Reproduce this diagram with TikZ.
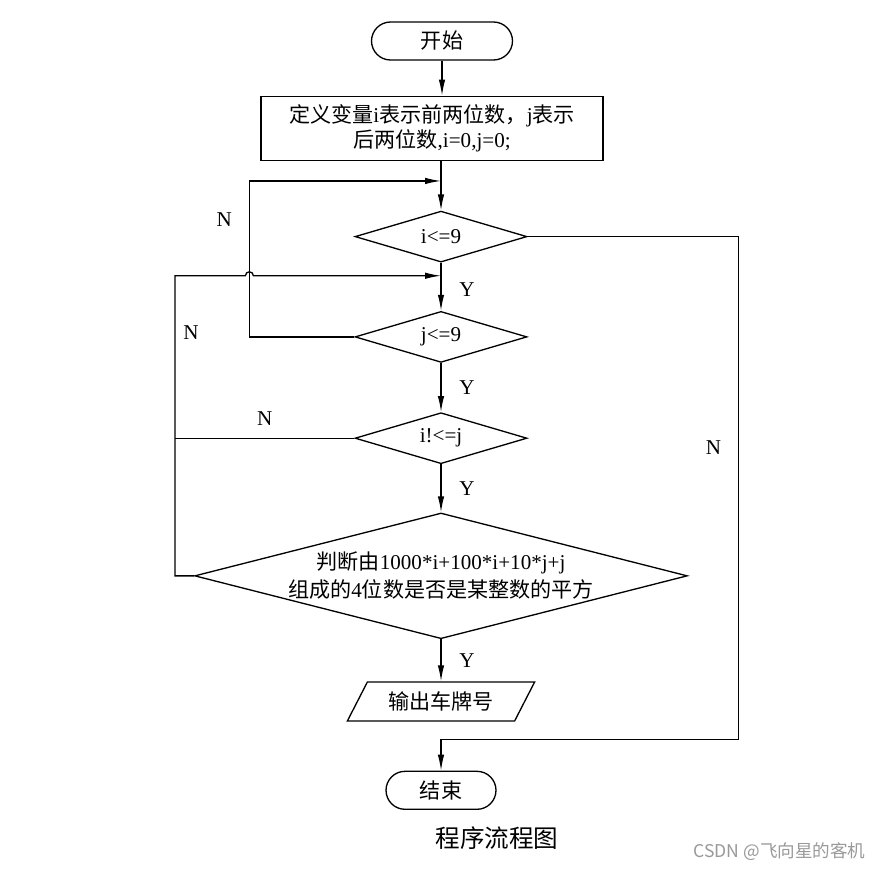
\documentclass[tikz,border=0pt]{standalone}
\usepackage{fontspec}
\setmainfont{Liberation Serif}
\newfontfamily\cjk{Noto Sans CJK SC}
\usetikzlibrary{arrows.meta,shapes.geometric,positioning,calc}

\begin{document}
\begin{tikzpicture}[
    x=0.02cm,y=0.02cm,
    line width=0.75pt,
    node distance=1.0cm,
    every node/.style={font=\fontsize{12}{14}\selectfont},
    term/.style={rectangle,draw,rounded corners=0.38cm,minimum height=0.76cm,align=center},
    block/.style={rectangle,draw,minimum width=6.84cm,minimum height=1.28cm,align=center},
    decide/.style={diamond,draw,minimum width=3.44cm,minimum height=1.02cm,inner sep=0pt,shape aspect=3.4,align=center},
    io/.style={trapezium,trapezium left angle=63,trapezium right angle=117,trapezium stretches,draw,minimum width=3.78cm,minimum height=0.78cm},
    arrow/.style={-{Latex[length=3.2mm,width=1.3mm]}},
    lbl/.style={inner sep=1pt}
]
    \useasboundingbox (0,0) rectangle (884,-872);

    \node[term,minimum width=2.82cm] (start) at (442,-41) {\cjk 开始};
    \node[block,below=0.7cm of start,xshift=-0.2cm] (init) {{\cjk 定义变量}i{\cjk 表示前两位数，}j{\cjk 表示}\\{\cjk 后两位数},i=0,j=0;};
    \node[decide,below=0.99cm of init,xshift=0.18cm] (ci) {i<=9};
    \node[decide,below=0.96cm of ci] (cj) {j<=9};
    \node[decide,below=0.98cm of cj] (cij) {i!<=j};
    \node[decide,minimum width=9.8cm,minimum height=2.46cm,shape aspect=3.92,below=0.96cm of cij] (judge) {{\cjk 判断由}1000*i+100*i+10*j+j\\[2pt]{\cjk 组成的}4{\cjk 位数是否是某整数的平方}};
    \node[io,below=0.84cm of judge] (out) {\cjk 输出车牌号};
    \node[term,minimum width=2.2cm,below=0.98cm of out] (stop) {\cjk 结束};

    % caption and mark
    \node[font=\fontsize{14}{16}\selectfont,below=0.2cm of stop,xshift=1.12cm] (title) {\cjk 程序流程图};
    \node[font=\fontsize{10}{12}\selectfont\cjk,text=gray!80,anchor=east] (mark) at (872,-852) {CSDN @飞向星的客机};

    % junctions
    \coordinate (m1) at ([yshift=-0.4cm]init.south -| ci.north);
    \coordinate (m2) at ([yshift=-0.26cm]ci.south);
    \coordinate (jl) at ([xshift=-2.1cm]cj.west);
    \coordinate (ol) at ([xshift=-0.38cm]judge.west);
    \coordinate (rr) at ([xshift=4.22cm]ci.east);
    \coordinate (bl) at ([yshift=0.62cm]stop.north);

    \draw[arrow] (start.south) -- (start.south |- init.north);
    \draw[arrow] (init.south -| ci.north) -- (ci.north);
    \draw[arrow] (ci.south) -- node[lbl,pos=0.55,right=0.32cm]{Y} (cj.north);
    \draw[arrow] (cj.south) -- node[lbl,right=0.32cm]{Y} (cij.north);
    \draw[arrow] (cij.south) -- node[lbl,right=0.32cm]{Y} (judge.north);
    \draw[arrow] (judge.south) -- node[lbl,right=0.32cm]{Y} (out.north);

    % loops
    \draw[arrow] (cj.west) -- (jl) |- node[lbl,pos=0.375,left=0.3cm]{N} (m1);
    \draw[arrow] (judge.west) -- (ol) -- node[lbl,pos=0.81,right=0.12cm]{N} (ol |- m2) -- ([xshift=-0.08cm]jl |- m2) arc[start angle=180,end angle=0,radius=0.08cm] -- (m2);
    \draw (cij.west) -- node[lbl,above=0.2cm]{N} (cij.west -| ol);
    \draw[arrow] (ci.east) -- (rr) |- node[lbl,pos=0.21,left=0.3cm]{N} (bl) -- (stop.north);
\end{tikzpicture}
\end{document}
